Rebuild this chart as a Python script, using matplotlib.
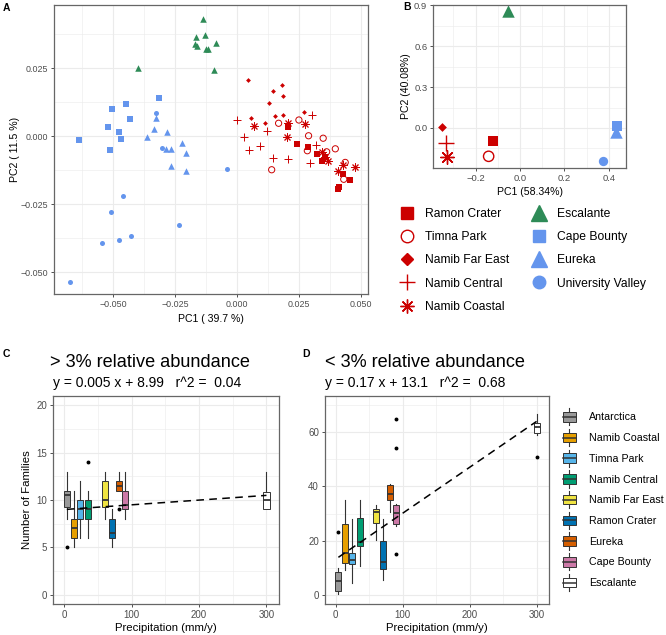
import matplotlib

matplotlib.use("Agg")
import matplotlib.pyplot as plt
from matplotlib.legend_handler import HandlerBase
from matplotlib.lines import Line2D
from matplotlib.patches import Patch, Rectangle
from matplotlib.ticker import MultipleLocator

plt.rcParams["font.family"] = ["Liberation Sans", "DejaVu Sans"]

# ---- panel A: PCoA of samples (PC1 / PC2) ----
ramon_pc1 = [0.0205, 0.0241, 0.0286, 0.0322, 0.0341, 0.0355, 0.0426, 0.0455, 0.0410, 0.0405]
ramon_pc2 = [0.0035, -0.0029, -0.0039, -0.0066, -0.0090, -0.0077, -0.0139, -0.0161, -0.0188, -0.0193]
timna_pc1 = [0.0167, 0.0249, 0.0288, 0.0347, 0.0283, 0.0361, 0.0396, 0.0436, 0.0430, 0.0139]
timna_pc2 = [0.0048, 0.0060, 0.0002, -0.0007, -0.0053, -0.0057, -0.0046, -0.0096, -0.0158, -0.0123]
nfe_pc1 = [0.0042, 0.0143, 0.0181, 0.0183, 0.0128, 0.0054, 0.0113, 0.0151, 0.0185, 0.0269]
nfe_pc2 = [0.0207, 0.0165, 0.0188, 0.0148, 0.0121, 0.0068, 0.0049, 0.0076, 0.0079, 0.0090]
ncentral_pc1 = [-0.0002, 0.0303, 0.0028, 0.0120, 0.0092, 0.0048, 0.0143, 0.0206, 0.0292, 0.0319]
ncentral_pc2 = [0.0059, 0.0078, -0.0003, 0.0018, -0.0037, -0.0051, -0.0080, -0.0085, -0.0098, -0.0033]
ncoastal_pc1 = [0.0069, 0.0206, 0.0272, 0.0201, 0.0341, 0.0354, 0.0365, 0.0408, 0.0426, 0.0474]
ncoastal_pc2 = [0.0038, 0.0048, 0.0045, -0.0001, -0.0057, -0.0077, -0.0091, -0.0126, -0.0106, -0.0113]
escalante_pc1 = [-0.0137, -0.0168, -0.0132, -0.0086, -0.0171, -0.0163, -0.0126, -0.0118, -0.0094, -0.0402]
escalante_pc2 = [0.0431, 0.0364, 0.0371, 0.0344, 0.0341, 0.0331, 0.0320, 0.0322, 0.0244, 0.0252]
cape_pc1 = [-0.0638, -0.0506, -0.0450, -0.0432, -0.0522, -0.0477, -0.0471, -0.0515, -0.0318]
cape_pc2 = [-0.0015, 0.0100, 0.0120, 0.0065, 0.0034, 0.0017, -0.0011, -0.0050, 0.0141]
eureka_pc1 = [-0.0328, -0.0338, -0.0365, -0.0283, -0.0289, -0.0267, -0.0267, -0.0222, -0.0208, -0.0208]
eureka_pc2 = [0.0067, 0.0026, -0.0001, 0.0015, -0.0047, -0.0047, -0.0110, -0.0023, -0.0063, -0.0128]
uv_pc1 = [-0.0330, -0.0303, -0.0043, -0.0463, -0.0509, -0.0237, -0.0545, -0.0478, -0.0431, -0.0677]
uv_pc2 = [0.0086, -0.0043, -0.0119, -0.0218, -0.0277, -0.0325, -0.0393, -0.0380, -0.0367, -0.0536]

# ---- panel B: site centroids ----
sites = ["Ramon Crater", "Timna Park", "Namib Far East", "Namib Central", "Namib Coastal",
         "Escalante", "Cape Bounty", "Eureka", "University Valley"]
site_pc1 = [-0.122, -0.141, -0.351, -0.333, -0.327, -0.053, 0.437, 0.432, 0.375]
site_pc2 = [-0.095, -0.208, 0.005, -0.110, -0.210, 0.861, 0.015, -0.032, -0.240]

# ---- panels C / D: families vs precipitation ----
box_sites = ["Antarctica", "Namib Coastal", "Timna Park", "Namib Central", "Namib Far East",
             "Ramon Crater", "Eureka", "Cape Bounty", "Escalante"]
precip = [4, 14, 24, 36, 60, 71, 81, 90, 300]

hi_whislo = [8, 5, 6, 6, 8, 5, 11, 8, 9]
hi_q1 = [9.3, 6, 8, 8, 9.3, 6, 11, 9, 9]
hi_med = [10.5, 7, 9, 9, 10, 6.5, 11.5, 9.5, 10]
hi_q3 = [11, 8, 10, 10, 12, 8, 12, 11, 10.8]
hi_whishi = [13, 11, 12, 11, 13, 9, 13, 13, 13]
hi_fliers = [[5], [], [], [14], [], [], [9], [], []]
hi_fit = (0.005, 8.99)

lo_whislo = [0.3, 9.1, 4.2, 10.4, 20.3, 5.2, 30.7, 25.2, 59.1]
lo_q1 = [1.4, 11.6, 11.2, 18.0, 26.4, 9.5, 35.1, 26.2, 59.8]
lo_med = [5.1, 15.2, 12.7, 19.3, 30.5, 12.2, 37.2, 30.1, 61.9]
lo_q3 = [8.5, 26.2, 15.3, 28.3, 31.7, 20.0, 40.6, 33.2, 63.5]
lo_whishi = [10.0, 35.1, 28.0, 35.1, 33.2, 28.0, 41.0, 33.5, 66.9]
lo_fliers = [[23.1], [], [], [], [], [], [], [65.1, 54.1, 15.0], [51.1]]
lo_fit = (0.17, 13.1)

RED, GREEN, BLUE = "#CC0000", "#2E8B57", "#6495ED"
BOX_COLORS = ["#999999", "#E69F00", "#56B4E9", "#009E73", "#F0E442",
              "#0072B2", "#D55E00", "#CC79A7", "#FFFFFF"]
DARK = "#333333"
GRID = "#EBEBEB"
ASTERISK = (8, 2, 0)

# marker style per site (A and B share it)
STYLE = {
    "Ramon Crater": dict(marker="s", color=RED, fill=True),
    "Timna Park": dict(marker="o", color=RED, fill=False),
    "Namib Far East": dict(marker="D", color=RED, fill=True),
    "Namib Central": dict(marker="+", color=RED, fill=True),
    "Namib Coastal": dict(marker=ASTERISK, color=RED, fill=True),
    "Escalante": dict(marker="^", color=GREEN, fill=True),
    "Cape Bounty": dict(marker="s", color=BLUE, fill=True),
    "Eureka": dict(marker="^", color=BLUE, fill=True),
    "University Valley": dict(marker="o", color=BLUE, fill=True),
}
SIZE_A = {"s": 13, "o": 13, "open": 20, "D": 6, "+": 36, "*": 28, "^": 22}
SIZE_B = {"s": 42, "o": 45, "open": 55, "D": 20, "+": 130, "*": 95, "^": 80}
SIZE_LEG = {"s": 8.5, "o": 9, "open": 9, "D": 6.5, "+": 12, "*": 10, "^": 11}


def size_key(st):
    if st["marker"] == ASTERISK:
        return "*"
    if not st["fill"]:
        return "open"
    return st["marker"]


def style_axes(ax, tick_size):
    ax.set_facecolor("white")
    ax.grid(which="major", color=GRID, linewidth=0.8)
    ax.grid(which="minor", color=GRID, linewidth=0.4)
    ax.set_axisbelow(True)
    for spine in ax.spines.values():
        spine.set_color("#666666")
        spine.set_linewidth(0.9)
    ax.tick_params(which="major", direction="out", length=2.5, width=0.6, color=DARK,
                   labelsize=tick_size, labelcolor="#4D4D4D", pad=1.8)
    ax.tick_params(which="minor", length=0)


def scatter_site(ax, x, y, name, sizes, lw):
    st = STYLE[name]
    m = st["marker"]
    size = sizes[size_key(st)]
    if not st["fill"]:
        ax.scatter(x, y, marker=m, s=size, facecolors="none", edgecolors=st["color"], linewidths=lw)
    elif m == "+" or m == ASTERISK:
        ax.scatter(x, y, marker=m, s=size, color=st["color"], linewidths=lw)
    else:
        ax.scatter(x, y, marker=m, s=size, color=st["color"], linewidths=0)


def minus_fmt(digits):
    return lambda v, p: f"{v:.{digits}f}".replace("-", "\u2212")


fig = plt.figure(figsize=(6.66, 6.35), dpi=100)

# ---------------- panel A ----------------
axA = fig.add_axes([54 / 666, 1 - 294 / 635, 314 / 666, 289 / 635])
style_axes(axA, 6.4)
groups_a = [
    ("Ramon Crater", ramon_pc1, ramon_pc2), ("Timna Park", timna_pc1, timna_pc2),
    ("Namib Far East", nfe_pc1, nfe_pc2), ("Namib Central", ncentral_pc1, ncentral_pc2),
    ("Namib Coastal", ncoastal_pc1, ncoastal_pc2), ("Escalante", escalante_pc1, escalante_pc2),
    ("Cape Bounty", cape_pc1, cape_pc2), ("Eureka", eureka_pc1, eureka_pc2),
    ("University Valley", uv_pc1, uv_pc2),
]
for name, xs, ys in groups_a:
    scatter_site(axA, xs, ys, name, SIZE_A, 0.7)
axA.set_xlim(-0.074, 0.0528)
axA.set_ylim(-0.058, 0.0483)
axA.xaxis.set_major_locator(MultipleLocator(0.025))
axA.yaxis.set_major_locator(MultipleLocator(0.025))
axA.xaxis.set_minor_locator(MultipleLocator(0.0125))
axA.yaxis.set_minor_locator(MultipleLocator(0.0125))
axA.xaxis.set_major_formatter(minus_fmt(3))
axA.yaxis.set_major_formatter(minus_fmt(3))
axA.set_xlabel("PC1 ( 39.7 %)", fontsize=7.6, labelpad=3.5)
axA.set_ylabel("PC2 ( 11.5 %)", fontsize=7.6, labelpad=0.5)

# ---------------- panel B ----------------
axB = fig.add_axes([433.3 / 666, 1 - 168.3 / 635, 192.7 / 666, 163.6 / 635])
style_axes(axB, 6.8)
for name, x, y in zip(sites, site_pc1, site_pc2):
    scatter_site(axB, [x], [y], name, SIZE_B, 1.0)
axB.set_xlim(-0.39, 0.477)
axB.set_ylim(-0.296, 0.905)
axB.xaxis.set_major_locator(MultipleLocator(0.2))
axB.yaxis.set_major_locator(MultipleLocator(0.3))
axB.xaxis.set_minor_locator(MultipleLocator(0.1))
axB.yaxis.set_minor_locator(MultipleLocator(0.15))
axB.xaxis.set_major_formatter(minus_fmt(1))
axB.yaxis.set_major_formatter(minus_fmt(1))
axB.set_xlabel("PC1 (58.34%)", fontsize=7.6, labelpad=2.5)
axB.set_ylabel("PC2 (40.08%)", fontsize=7.6, labelpad=2)

# legend for A / B
leg_handles = []
for name in sites:
    st = STYLE[name]
    leg_handles.append(Line2D([], [], linestyle="none", marker=st["marker"],
                              markersize=SIZE_LEG[size_key(st)],
                              markerfacecolor=st["color"] if st["fill"] else "none",
                              markeredgecolor=st["color"], markeredgewidth=1.0))
fig.legend(leg_handles, sites, ncol=2, loc="upper left", bbox_to_anchor=(397 / 666, 1 - 208 / 635),
           frameon=False, fontsize=8.7, handlelength=1.6, handletextpad=0.7,
           columnspacing=1.7, labelspacing=0.93, borderpad=0, borderaxespad=0)


# ---------------- panels C / D ----------------
def box_panel(ax, whislo, q1, med, q3, whishi, fliers, fit, ylim, ymajor, yminor):
    stats = []
    for i in range(len(box_sites)):
        stats.append(dict(whislo=whislo[i], q1=q1[i], med=med[i], q3=q3[i],
                          whishi=whishi[i], fliers=fliers[i], label=box_sites[i]))
    slope, icept = fit
    xs = [min(precip), max(precip)]
    ax.plot(xs, [slope * v + icept for v in xs], color="black", linewidth=1.1,
            dashes=(5, 3.5), zorder=3)
    parts = ax.bxp(stats, positions=precip, widths=9, patch_artist=True, showcaps=False,
                   manage_ticks=False,
                   boxprops=dict(edgecolor=DARK, linewidth=0.7),
                   whiskerprops=dict(color=DARK, linewidth=0.8),
                   medianprops=dict(color=DARK, linewidth=1.3),
                   flierprops=dict(marker="o", markersize=1.8, markerfacecolor="black",
                                   markeredgecolor="black"))
    for patch, col in zip(parts["boxes"], BOX_COLORS):
        patch.set_facecolor(col)
    for artist in parts["boxes"] + parts["medians"] + parts["whiskers"] + parts["fliers"]:
        artist.set_zorder(2)
    ax.set_xlim(-16, 319)
    ax.set_ylim(*ylim)
    ax.xaxis.set_major_locator(MultipleLocator(100))
    ax.xaxis.set_minor_locator(MultipleLocator(50))
    ax.yaxis.set_major_locator(MultipleLocator(ymajor))
    ax.yaxis.set_minor_locator(MultipleLocator(yminor))
    ax.set_xlabel("Precipitation (mm/y)", fontsize=8.2, labelpad=2)


axC = fig.add_axes([53.3 / 666, 1 - 604 / 635, 226 / 666, 208 / 635])
style_axes(axC, 7)
box_panel(axC, hi_whislo, hi_q1, hi_med, hi_q3, hi_whishi, hi_fliers, hi_fit, (-1, 21), 5, 2.5)
axC.set_ylabel("Number of Families", fontsize=8.2, labelpad=3)

axD = fig.add_axes([325 / 666, 1 - 604 / 635, 224.3 / 666, 208 / 635])
style_axes(axD, 7)
box_panel(axD, lo_whislo, lo_q1, lo_med, lo_q3, lo_whishi, lo_fliers, lo_fit, (-3.5, 73.5), 20, 10)

# titles / subtitles
fig.text(50 / 666, 1 - 367 / 635, "> 3% relative abundance", fontsize=13.1, va="baseline")
fig.text(53 / 666, 1 - 387 / 635, "y = 0.005 x + 8.99   r^2 =  0.04", fontsize=10.0, va="baseline")
fig.text(325 / 666, 1 - 367 / 635, "< 3% relative abundance", fontsize=13.1, va="baseline")
fig.text(325 / 666, 1 - 387 / 635, "y = 0.17 x + 13.1   r^2 =  0.68", fontsize=10.0, va="baseline")


# legend for D with boxplot-like keys
class BoxKey(HandlerBase):
    def create_artists(self, legend, orig_handle, xdescent, ydescent, width, height,
                       fontsize, trans):
        x0, y0 = -xdescent, -ydescent
        cx = x0 + width / 2
        ext = height * 0.4
        wl = Line2D([cx, cx], [y0 - ext, y0 + height + ext], color=DARK, linewidth=0.8,
                    transform=trans)
        rect = Rectangle((x0, y0), width, height, facecolor=orig_handle.get_facecolor(),
                         edgecolor=DARK, linewidth=0.7, transform=trans)
        med = Line2D([x0, x0 + width], [y0 + height / 2] * 2, color=DARK, linewidth=1.1,
                     transform=trans)
        return [wl, rect, med]


box_handles = [Patch(facecolor=c) for c in BOX_COLORS]
fig.legend(box_handles, box_sites, loc="upper left", bbox_to_anchor=(562.8 / 666, 1 - 412 / 635),
           frameon=False, fontsize=7.7, handlelength=1.2, handleheight=1.0, handletextpad=1.25,
           labelspacing=0.96, borderpad=0, borderaxespad=0,
           handler_map={Patch: BoxKey()})

# panel letters
for letter, (px, py) in {"A": (3, 8), "B": (403, 7), "C": (3, 354), "D": (302, 354)}.items():
    fig.text(px / 666, 1 - py / 635, letter, fontsize=7.5, fontweight="bold", va="center")

fig.savefig("out.png", dpi=100, facecolor="white")
